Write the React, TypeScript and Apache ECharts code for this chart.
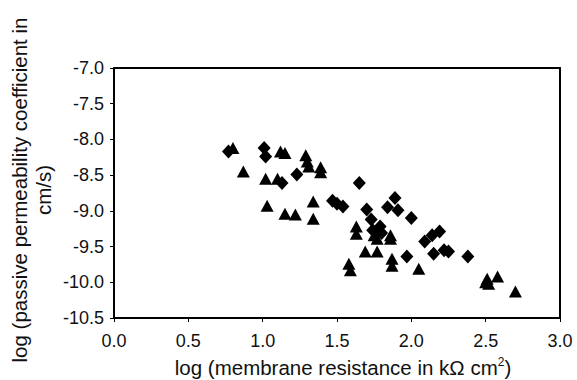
import React, { useEffect, useRef } from "react";
import * as echarts from "echarts";

const xTicks = ["0.0", "0.5", "1.0", "1.5", "2.0", "2.5", "3.0"];
const yTicks = ["-10.5", "-10.0", "-9.5", "-9.0", "-8.5", "-8.0", "-7.5", "-7.0"];

const diamondPoints: [number, number][] = [
  [0.77, -8.17], [1.01, -8.12], [1.02, -8.24], [1.13, -8.61], [1.23, -8.49],
  [1.47, -8.86], [1.5, -8.9], [1.54, -8.94], [1.65, -8.61], [1.7, -8.98],
  [1.84, -8.95], [1.89, -8.82], [1.91, -8.99], [2.0, -9.1], [1.73, -9.12],
  [1.79, -9.22], [1.74, -9.27], [1.8, -9.31], [1.97, -9.64], [2.09, -9.43],
  [2.14, -9.34], [2.19, -9.29], [2.22, -9.55], [2.25, -9.57], [2.15, -9.6],
  [2.38, -9.64],
];

const trianglePoints: [number, number][] = [
  [0.8, -8.12], [0.87, -8.45], [1.12, -8.17], [1.15, -8.19], [1.02, -8.55],
  [1.1, -8.55], [1.03, -8.93], [1.15, -9.04], [1.22, -9.05], [1.29, -8.22],
  [1.3, -8.31], [1.31, -8.38], [1.39, -8.39], [1.39, -8.46], [1.34, -8.87],
  [1.34, -9.11], [1.63, -9.22], [1.63, -9.32], [1.78, -9.25], [1.75, -9.34],
  [1.77, -9.39], [1.86, -9.34], [1.86, -9.39], [1.69, -9.57], [1.77, -9.57],
  [1.87, -9.67], [1.87, -9.77], [1.58, -9.74], [1.59, -9.83], [2.05, -9.81],
  [2.51, -9.95], [2.5, -10.0], [2.52, -10.02], [2.58, -9.92], [2.7, -10.13],
];

const yTitleLines = ["log (passive permeability coefficient in", "cm/s)"];

export default function App() {
  const ref = useRef<HTMLDivElement>(null);
  useEffect(() => {
    if (!ref.current) return;
    const chart = echarts.init(ref.current, undefined, { renderer: "svg" });
    const font = "Liberation Sans, Arial, sans-serif";
    const frameAxis = {
      type: "value",
      splitLine: { show: false },
      axisLine: { show: true, onZero: false, lineStyle: { color: "#000", width: 2 } },
      axisTick: { show: false },
      axisLabel: { show: false },
    };
    chart.setOption({
      animation: false,
      backgroundColor: "#fff",
      grid: {
        left: 114,
        right: 17,
        top: 68,
        bottom: 62,
        containLabel: false,
      },
      xAxis: [
        {
          type: "value",
          min: 0,
          max: 3,
          interval: 0.5,
          splitLine: { show: false },
          axisLine: { show: true, onZero: false, lineStyle: { color: "#000", width: 2 } },
          axisTick: { show: true, length: 4, lineStyle: { color: "#000" } },
          axisLabel: {
            margin: 14,
            color: "#111",
            fontSize: 18,
            fontFamily: font,
            formatter: (v: number) => xTicks[Math.round(v / 0.5)] ?? v.toFixed(1),
          },
        },
        { ...frameAxis, position: "top", min: 0, max: 3 },
      ],
      yAxis: [
        {
          type: "value",
          min: -10.5,
          max: -7,
          interval: 0.5,
          splitLine: { show: false },
          axisLine: { show: true, onZero: false, lineStyle: { color: "#000", width: 2 } },
          axisTick: { show: true, length: 4, lineStyle: { color: "#000" } },
          axisLabel: {
            margin: 10,
            color: "#111",
            fontSize: 18,
            fontFamily: font,
            formatter: (v: number) => yTicks[Math.round((v + 10.5) / 0.5)] ?? v.toFixed(1),
          },
        },
        { ...frameAxis, position: "right", min: -10.5, max: -7 },
      ],
      graphic: [
        {
          type: "text",
          x: 31,
          y: 190,
          rotation: Math.PI / 2,
          style: {
            text: yTitleLines.join("\n"),
            fontSize: 20.5,
            lineHeight: 24,
            fontFamily: font,
            fill: "#111",
            align: "center",
            verticalAlign: "middle",
          },
        },
        {
          type: "text",
          x: 343,
          y: 367,
          style: {
            text: "{a|log (membrane resistance in kΩ cm}{s|2}{a|)}",
            fontFamily: font,
            fill: "#111",
            align: "center",
            verticalAlign: "middle",
            rich: {
              a: { fontSize: 20.5, fontFamily: font, fill: "#111", lineHeight: 22 },
              s: { fontSize: 12, fontFamily: font, fill: "#111", verticalAlign: "top", lineHeight: 12, padding: [0, 0, 10, 0] },
            },
          },
        },
      ],
      series: [
        {
          type: "scatter",
          symbol: "diamond",
          symbolSize: [13, 14],
          itemStyle: { color: "#000", opacity: 1 },
          data: diamondPoints,
        },
        {
          type: "scatter",
          symbol: "triangle",
          symbolSize: [13, 12],
          itemStyle: { color: "#000", opacity: 1 },
          data: trianglePoints,
        },
      ],
    });
    return () => chart.dispose();
  }, []);
  return (
    <div
      ref={ref}
      style={{ position: "absolute", left: 0, top: 0, width: 577, height: 380 }}
    />
  );
}
